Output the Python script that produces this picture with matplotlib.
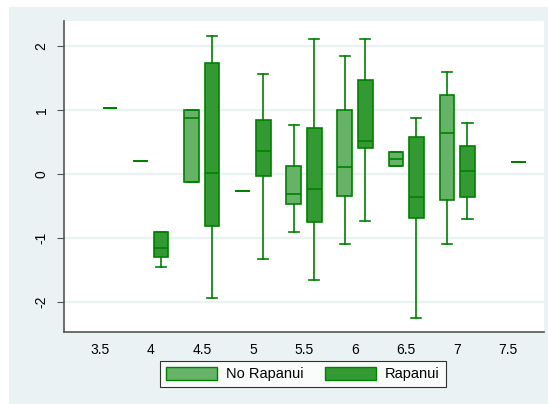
import matplotlib.pyplot as plt
import matplotlib.patches as mpatches
import numpy as np

# ================== DATA ==================
categories = ["3.5", "4", "4.5", "5", "5.5", "6", "6.5", "7", "7.5"]

# No Rapanui: category index, whiskers, quartiles and median
no_rap_cat = [1, 2, 3, 4, 5, 6, 7]
no_rap_lo = [0.198, -0.120, -0.260, -0.906, -1.089, 0.120, -1.089]
no_rap_q1 = [0.198, -0.120, -0.260, -0.469, -0.349, 0.120, -0.411]
no_rap_med = [0.198, 0.870, -0.260, -0.318, 0.104, 0.229, 0.635]
no_rap_q3 = [0.198, 0.995, -0.260, 0.120, 1.005, 0.349, 1.229]
no_rap_hi = [0.198, 0.995, -0.260, 0.771, 1.849, 0.349, 1.594]

# Rapanui
rap_cat = [0, 1, 2, 3, 4, 5, 6, 7, 8]
rap_lo = [1.036, -1.448, -1.938, -1.333, -1.656, -0.740, -2.245, -0.708, 0.193]
rap_q1 = [1.036, -1.302, -0.812, -0.031, -0.750, 0.411, -0.693, -0.354, 0.193]
rap_med = [1.036, -1.156, 0.021, 0.354, -0.240, 0.510, -0.365, 0.042, 0.193]
rap_q3 = [1.036, -0.911, 1.740, 0.844, 0.714, 1.469, 0.573, 0.432, 0.193]
rap_hi = [1.036, -0.911, 2.161, 1.568, 2.104, 2.104, 0.880, 0.792, 0.193]

bg = "#eaf2f3"
edge = "#008000"
col_no = "#66b266"
col_rap = "#339933"


def make_stats(lo, q1, med, q3, hi):
    return [dict(whislo=a, q1=b, med=c, q3=d, whishi=e)
            for a, b, c, d, e in zip(lo, q1, med, q3, hi)]


# ================== PLOT ==================
plt.rcParams["font.family"] = ["Liberation Sans", "DejaVu Sans"]

fig = plt.figure(figsize=(5.48, 4.04), dpi=100)
fig.patch.set_facecolor("white")
fig.patches.append(mpatches.Rectangle((9 / 548, 0), 1, 1 - 7 / 404,
                                      transform=fig.transFigure,
                                      facecolor=bg, edgecolor="none",
                                      zorder=-10))

ax = fig.add_axes([64 / 548, 72 / 404, 480 / 548, 311 / 404])
ax.set_facecolor("white")

box_w = 0.29
cap_w = 0.2
offset = 0.2

for cats, lo, q1, med, q3, hi, color, sh in [
    (no_rap_cat, no_rap_lo, no_rap_q1, no_rap_med, no_rap_q3, no_rap_hi, col_no, -offset),
    (rap_cat, rap_lo, rap_q1, rap_med, rap_q3, rap_hi, col_rap, offset),
]:
    stats = make_stats(lo, q1, med, q3, hi)
    pos = np.array(cats) + sh
    ax.bxp(stats, positions=pos, widths=box_w, capwidths=cap_w,
           patch_artist=True, showfliers=False,
           boxprops=dict(facecolor=color, edgecolor=edge, linewidth=1.2),
           medianprops=dict(color=edge, linewidth=1.2),
           whiskerprops=dict(color=edge, linewidth=1.2),
           capprops=dict(color=edge, linewidth=1.2),
           manage_ticks=False, zorder=3)

ax.set_xlim(-0.7, 8.7)
ax.set_ylim(-2.47, 2.39)
ax.set_xticks(range(len(categories)))
ax.set_xticklabels(categories, fontsize=10)
ax.tick_params(axis="x", length=0, pad=8)
ax.set_yticks([-2, -1, 0, 1, 2])
ax.set_yticklabels(["-2", "-1", "0", "1", "2"], rotation=90, va="center",
                   fontsize=10)
ax.tick_params(axis="y", length=5, color="#555555", pad=6)
ax.grid(axis="y", color=bg, linewidth=1.6, zorder=0)
ax.set_axisbelow(True)

for s in ["top", "right"]:
    ax.spines[s].set_visible(False)
for s in ["left", "bottom"]:
    ax.spines[s].set_color("#555555")
    ax.spines[s].set_linewidth(1.2)

# leyenda
handles = [mpatches.Patch(facecolor=col_no, edgecolor=edge, label="No Rapanui"),
           mpatches.Patch(facecolor=col_rap, edgecolor=edge, label="Rapanui")]
leg = fig.legend(handles=handles, loc="center", ncol=2,
                 bbox_to_anchor=(303 / 548, 1 - 374 / 404), fontsize=10.5,
                 frameon=True, fancybox=False, handlelength=3.5,
                 handleheight=1.0, handletextpad=0.6, columnspacing=1.5,
                 borderpad=0.4)
leg.get_frame().set_edgecolor("black")
leg.get_frame().set_linewidth(0.8)

fig.savefig("out.png", dpi=100)
